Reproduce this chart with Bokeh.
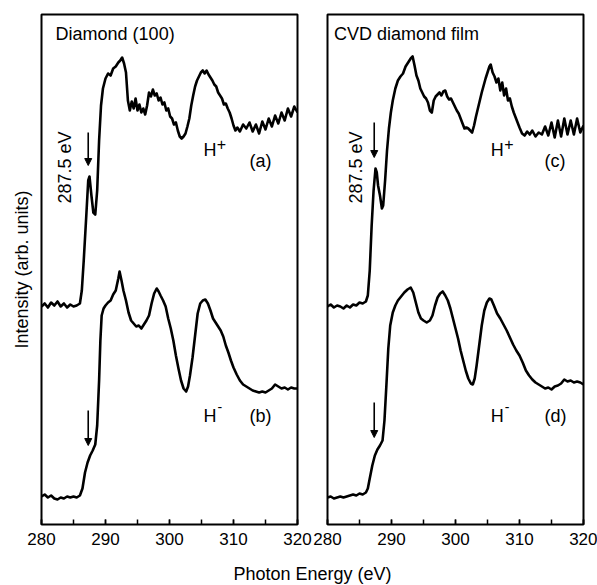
import math
from bokeh.plotting import figure
from bokeh.layouts import row, column
from bokeh.models import Range1d, SingleIntervalTicker, FixedTicker, Arrow, NormalHead, Label
from bokeh.core.properties import value
from bokeh.embed import file_html
from bokeh.resources import INLINE

FONT = "Liberation Sans"

# ---------------- data (photon energy in eV, intensity in arb. units) ----------------
# (a) Diamond (100), H+
diamond_hplus = [
    (280.0, 218), (280.5, 221), (281.0, 217), (281.5, 222), (282.0, 219), (282.5, 223),
    (283.0, 218), (283.5, 221), (284.0, 217), (284.5, 220), (285.0, 218), (285.5, 219),
    (286.0, 221), (286.3, 234), (286.6, 264), (287.0, 309), (287.3, 344), (287.5, 348),
    (287.8, 329), (288.1, 312), (288.4, 310), (288.7, 334), (289.0, 384), (289.3, 419),
    (289.6, 436), (290.0, 446), (290.4, 451), (290.8, 449), (291.2, 456), (291.6, 458),
    (292.0, 462), (292.3, 464), (292.6, 467), (292.9, 461), (293.2, 452), (293.5, 424),
    (293.8, 414), (294.1, 423), (294.4, 416), (294.7, 426), (295.0, 414), (295.3, 420),
    (295.6, 412), (295.9, 416), (296.2, 410), (296.5, 419), (296.8, 432), (297.1, 428),
    (297.4, 435), (297.7, 429), (298.0, 431), (298.3, 424), (298.6, 427), (298.9, 420),
    (299.2, 422), (299.5, 414), (299.8, 416), (300.1, 408), (300.4, 406), (300.7, 400),
    (301.0, 402), (301.3, 394), (301.6, 388), (301.9, 386), (302.2, 388), (302.5, 391),
    (302.8, 398), (303.1, 406), (303.4, 419), (303.7, 429), (304.0, 438), (304.3, 444),
    (304.6, 448), (304.9, 452), (305.2, 454), (305.5, 451), (305.8, 454), (306.1, 450),
    (306.4, 447), (306.7, 444), (307.0, 440), (307.3, 438), (307.6, 432), (307.9, 429),
    (308.2, 426), (308.5, 420), (308.8, 421), (309.1, 416), (309.4, 412), (309.7, 406),
    (310.0, 399), (310.3, 394), (310.6, 397), (311.0, 393), (311.5, 400), (312.0, 396),
    (312.5, 402), (313.0, 393), (313.5, 400), (314.0, 391), (314.5, 403), (315.0, 395),
    (315.5, 406), (316.0, 398), (316.5, 409), (317.0, 401), (317.5, 412), (318.0, 404),
    (318.5, 416), (319.0, 408), (319.5, 418), (320.0, 412),
]

# (b) Diamond (100), H-
diamond_hminus = [
    (280.0, 28), (280.5, 30), (281.0, 27), (281.5, 29), (282.0, 26), (282.5, 25),
    (283.0, 27), (283.5, 26), (284.0, 28), (284.5, 27), (285.0, 28), (285.5, 27),
    (286.0, 29), (286.4, 36), (286.8, 52), (287.2, 62), (287.6, 69), (288.0, 74),
    (288.4, 80), (288.7, 99), (289.0, 144), (289.2, 184), (289.4, 209), (289.7, 216),
    (290.0, 219), (290.4, 222), (290.8, 224), (291.2, 230), (291.6, 234), (292.0, 246),
    (292.2, 253), (292.5, 244), (292.8, 234), (293.2, 224), (293.6, 212), (294.0, 204),
    (294.4, 201), (294.8, 198), (295.2, 199), (295.6, 196), (296.0, 200), (296.4, 204),
    (296.8, 209), (297.2, 221), (297.6, 231), (298.0, 236), (298.3, 233), (298.6, 229),
    (299.0, 224), (299.4, 218), (299.8, 206), (300.2, 196), (300.6, 184), (301.0, 169),
    (301.4, 156), (301.8, 144), (302.2, 136), (302.6, 133), (302.9, 138), (303.2, 149),
    (303.6, 167), (304.0, 189), (304.4, 211), (304.8, 221), (305.2, 224), (305.6, 225),
    (306.0, 221), (306.4, 214), (306.8, 206), (307.2, 202), (307.6, 198), (308.0, 194),
    (308.4, 188), (308.8, 179), (309.2, 172), (309.6, 164), (310.0, 157), (310.5, 150),
    (311.0, 144), (311.5, 140), (312.0, 138), (312.5, 136), (313.0, 134), (313.5, 133),
    (314.0, 132), (314.5, 133), (315.0, 132), (315.5, 134), (316.0, 136), (316.5, 140),
    (317.0, 138), (317.5, 136), (318.0, 137), (318.5, 135), (319.0, 137), (319.5, 136),
    (320.0, 136),
]

# (c) CVD diamond film, H+
cvd_hplus = [
    (280.0, 218), (280.5, 220), (281.0, 217), (281.5, 219), (282.0, 218), (282.5, 216),
    (283.0, 219), (283.5, 217), (284.0, 220), (284.5, 219), (285.0, 222), (285.5, 221),
    (286.0, 223), (286.3, 229), (286.6, 254), (286.9, 299), (287.2, 334), (287.5, 356),
    (287.7, 352), (287.9, 339), (288.2, 329), (288.5, 316), (288.7, 319), (289.0, 344),
    (289.3, 374), (289.6, 396), (289.9, 412), (290.2, 424), (290.6, 436), (291.0, 444),
    (291.4, 448), (291.8, 451), (292.2, 458), (292.6, 462), (293.0, 466), (293.3, 468),
    (293.6, 459), (293.9, 449), (294.2, 444), (294.5, 436), (294.8, 432), (295.1, 428),
    (295.4, 426), (295.7, 422), (296.0, 414), (296.3, 412), (296.6, 424), (296.9, 428),
    (297.2, 430), (297.5, 432), (297.8, 429), (298.1, 433), (298.4, 434), (298.7, 428),
    (299.0, 425), (299.3, 426), (299.6, 422), (299.9, 418), (300.2, 414), (300.5, 411),
    (300.8, 406), (301.1, 401), (301.4, 396), (301.7, 397), (302.0, 396), (302.3, 394),
    (302.6, 392), (302.9, 399), (303.2, 408), (303.5, 416), (303.8, 424), (304.1, 432),
    (304.4, 439), (304.7, 446), (305.0, 452), (305.3, 458), (305.5, 460), (305.8, 452),
    (306.1, 448), (306.4, 442), (306.7, 446), (307.0, 434), (307.3, 442), (307.6, 429),
    (307.9, 436), (308.2, 424), (308.5, 426), (308.8, 418), (309.1, 412), (309.4, 407),
    (309.7, 402), (310.0, 397), (310.4, 391), (310.8, 389), (311.2, 393), (311.6, 390),
    (312.0, 394), (312.5, 388), (313.0, 392), (313.5, 390), (314.0, 398), (314.5, 389),
    (315.0, 402), (315.5, 387), (316.0, 404), (316.5, 388), (317.0, 406), (317.5, 390),
    (318.0, 404), (318.5, 390), (319.0, 406), (319.5, 392), (320.0, 399),
]

# (d) CVD diamond film, H-
cvd_hminus = [
    (280.0, 27), (280.5, 28), (281.0, 26), (281.5, 27), (282.0, 28), (282.5, 27),
    (283.0, 28), (283.5, 29), (284.0, 30), (284.5, 29), (285.0, 31), (285.5, 30),
    (286.0, 32), (286.3, 36), (286.6, 46), (287.0, 59), (287.4, 69), (287.8, 75),
    (288.2, 79), (288.6, 84), (288.9, 104), (289.2, 139), (289.5, 176), (289.8, 199),
    (290.2, 212), (290.6, 219), (291.0, 224), (291.5, 228), (292.0, 232), (292.5, 235),
    (293.0, 237), (293.4, 232), (293.8, 222), (294.2, 212), (294.6, 206), (295.0, 204),
    (295.5, 202), (296.0, 204), (296.4, 209), (296.8, 219), (297.2, 227), (297.6, 231),
    (298.0, 233), (298.4, 229), (298.8, 224), (299.2, 216), (299.6, 206), (300.0, 196),
    (300.4, 186), (300.8, 174), (301.2, 164), (301.6, 154), (302.0, 146), (302.4, 141),
    (302.7, 140), (303.0, 146), (303.3, 159), (303.7, 179), (304.1, 199), (304.5, 214),
    (304.9, 222), (305.3, 226), (305.6, 225), (306.0, 219), (306.5, 211), (307.0, 206),
    (307.5, 200), (308.0, 194), (308.5, 187), (309.0, 180), (309.5, 174), (310.0, 169),
    (310.5, 162), (311.0, 154), (311.5, 149), (312.0, 145), (312.5, 142), (313.0, 140),
    (313.5, 138), (314.0, 136), (314.5, 137), (315.0, 135), (315.5, 138), (316.0, 139),
    (316.5, 141), (317.0, 145), (317.5, 143), (318.0, 144), (318.5, 142), (319.0, 143),
    (319.5, 142), (320.0, 140),
]

energy_ticks = [280, 290, 300, 310, 320]
peak_label = "287.5 eV"
peak_energy = 287.3
# arrows: (start intensity, end intensity) for the upper and lower spectrum
arrows_left = [(392, 359), (114, 79)]
arrows_right = [(402, 367), (122, 87)]


def make_panel(title, title_x, upper, lower, arrows, rot_x, plus_x, tag_x,
               tag_upper, tag_lower, show_ylabel, bl, br):
    p = figure(frame_width=256, frame_height=510,
               x_range=Range1d(280, 320), y_range=Range1d(0, 510),
               output_backend="svg", toolbar_location=None,
               min_border_left=bl, min_border_right=br,
               min_border_top=14, min_border_bottom=30,
               background_fill_color="white", border_fill_color="white")
    p.grid.visible = False
    p.outline_line_color = "black"
    p.outline_line_width = 2

    xa = p.xaxis[0]
    xa.ticker = SingleIntervalTicker(interval=10, num_minor_ticks=2)
    xa.axis_line_color = None
    xa.major_tick_in = 5
    xa.major_tick_out = 0
    xa.minor_tick_in = 5
    xa.minor_tick_out = 0
    xa.major_tick_line_width = 1.5
    xa.minor_tick_line_width = 1.5
    xa.major_tick_line_color = "black"
    xa.minor_tick_line_color = "black"
    xa.major_label_text_font = FONT
    xa.major_label_text_font_size = "17px"
    xa.major_label_text_color = "black"
    xa.major_label_standoff = 8

    ya = p.yaxis[0]
    if show_ylabel:
        ya.ticker = FixedTicker(ticks=[])
        ya.axis_line_color = None
        ya.major_tick_out = 0
        ya.major_tick_in = 0
        ya.minor_tick_out = 0
        ya.major_label_standoff = 0
        ya.axis_label = "Intensity (arb. units)"
        ya.axis_label_text_font = FONT
        ya.axis_label_text_font_size = "18px"
        ya.axis_label_text_font_style = "normal"
        ya.axis_label_text_color = "black"
        ya.axis_label_standoff = 10
    else:
        ya.visible = False

    for curve in (upper, lower):
        xs = [c[0] for c in curve]
        ys = [c[1] for c in curve]
        p.line(xs, ys, line_color="black", line_width=2.6, line_join="round")

    for y0, y1 in arrows:
        p.add_layout(Arrow(end=NormalHead(size=7, fill_color="black", line_color="black"),
                           x_start=peak_energy, y_start=y0, x_end=peak_energy, y_end=y1,
                           line_color="black", line_width=1.6))

    txt = dict(text_font=value(FONT), text_color="black", text_baseline="middle")
    p.text(x=[title_x], y=[491], text=[title], text_font_size="18px", text_align="left", **txt)
    p.text(x=[rot_x], y=[357], text=[peak_label], angle=math.pi / 2,
           text_font_size="18px", text_align="center", **txt)
    p.text(x=[plus_x, plus_x, tag_x, tag_x], y=[375, 109, 364, 109],
           text=["H", "H", tag_upper, tag_lower], text_font_size="18px", text_align="left", **txt)
    p.text(x=[plus_x + 2.1], y=[381], text=["+"],
           text_font_size="16px", text_align="left", **txt)
    p.text(x=[plus_x + 2.2], y=[118], text=["-"],
           text_font_size="14px", text_align="left", **txt)
    return p


p1 = make_panel("Diamond (100)", 282.2, diamond_hplus, diamond_hminus, arrows_left,
                283.6, 305.3, 312.5, "(a)", "(b)", True, 41, 15)
p2 = make_panel("CVD diamond film", 281.0, cvd_hplus, cvd_hminus, arrows_right,
                284.4, 305.5, 313.9, "(c)", "(d)", False, 15, 14)

p3 = figure(frame_width=597, frame_height=31, x_range=Range1d(0, 1), y_range=Range1d(0, 1),
            output_backend="svg", toolbar_location=None, min_border=0,
            background_fill_color="white", border_fill_color="white")
p3.axis.visible = False
p3.grid.visible = False
p3.outline_line_color = None
p3.add_layout(Label(x=312, y=12, x_units="screen", y_units="screen",
                    text="Photon Energy (eV)", text_font=FONT, text_font_size="18px",
                    text_color="black", text_align="center", text_baseline="middle"))

layout = column(row(p1, p2), p3)

with open("out.html", "w") as f:
    f.write(file_html(layout, INLINE))
